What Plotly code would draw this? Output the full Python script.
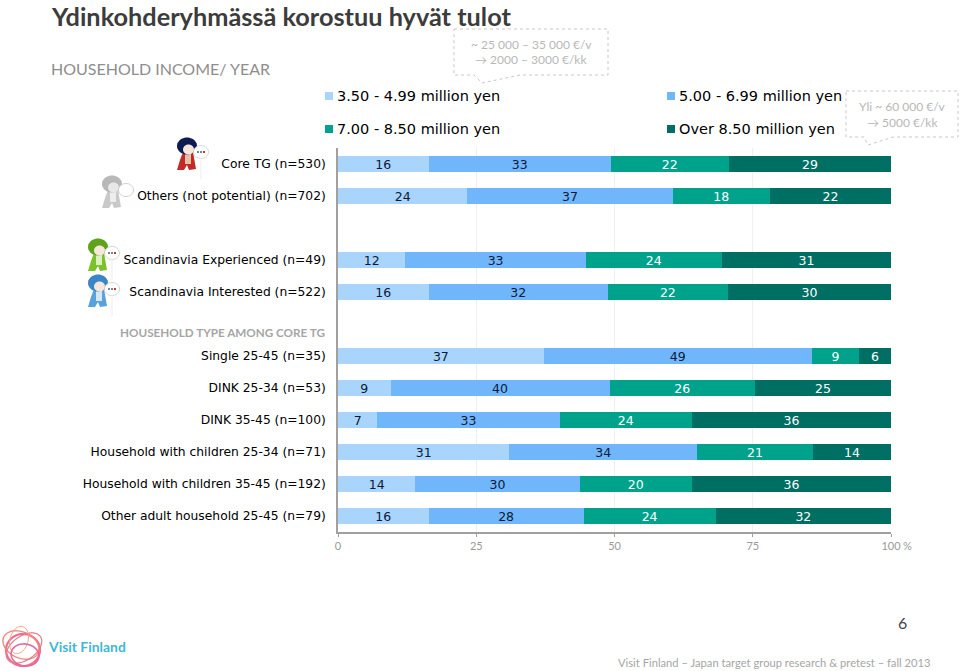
import math
import plotly.graph_objects as go

W, H = 960, 671
L, R, T, B = 338.0, 891.0, 148.0, 532.0

categories = ["Core TG (n=530)", "Others (not potential) (n=702)", " ",
              "Scandinavia Experienced (n=49)", "Scandinavia Interested (n=522)", "  ",
              "Single 25-45 (n=35)", "DINK 25-34 (n=53)", "DINK 35-45 (n=100)",
              "Household with children 25-34 (n=71)", "Household with children 35-45 (n=192)",
              "Other adult household 25-45 (n=79)"]
series_names = ["3.50 - 4.99 million yen", "5.00 - 6.99 million yen",
                "7.00 - 8.50 million yen", "Over 8.50 million yen"]
low = [16.4, 23.4, None, 12.2, 16.4, None, 37.2, 9.5, 7.1, 31.0, 14.0, 16.4]
mid = [32.9, 37.1, None, 32.6, 32.4, None, 48.5, 39.6, 33.0, 33.9, 29.7, 28.0]
high = [21.4, 17.6, None, 24.6, 21.7, None, 8.5, 26.3, 23.9, 21.0, 20.3, 23.9]
top = [29.3, 21.9, None, 30.6, 29.5, None, 5.8, 24.6, 36.0, 14.1, 36.0, 31.7]
low_labels = [16, 24, None, 12, 16, None, 37, 9, 7, 31, 14, 16]
mid_labels = [33, 37, None, 33, 32, None, 49, 40, 33, 34, 30, 28]
high_labels = [22, 18, None, 24, 22, None, 9, 26, 24, 21, 20, 24]
top_labels = [29, 22, None, 31, 30, None, 6, 25, 36, 14, 36, 32]
colors = ["#a9d4fb", "#6fb7fa", "#00a28c", "#006f63"]
text_colors = ["#0b1a3a", "#0b1a3a", "#ffffff", "#ffffff"]
tick_vals = [0, 25, 50, 75, 100]

SANS = "DejaVu Sans"
LIGHT = "Lato"

fig = go.Figure()
for name, vals, labs, col, tcol in zip(series_names, [low, mid, high, top],
                                       [low_labels, mid_labels, high_labels, top_labels],
                                       colors, text_colors):
    fig.add_trace(go.Bar(
        y=categories, x=vals, name=name, orientation="h", marker=dict(color=col, line_width=0),
        text=[("" if v is None else str(v)) for v in labs], textposition="inside",
        insidetextanchor="middle", textangle=0, constraintext="none",
        textfont=dict(family=SANS, size=12.5, color=tcol), showlegend=False,
        hoverinfo="x+y"))

def px(x):
    return (x - L) / (R - L)

def py(y):
    return (B - y) / (B - T)

def pth(points, close=True):
    d = "M" + " L".join(f"{px(x):.5f},{py(y):.5f}" for x, y in points)
    return d + (" Z" if close else "")

shapes, annos = [], []

def text(x, y, s, size, color, family=LIGHT, anchor="left", bold=False):
    annos.append(dict(x=px(x), y=py(y), xref="paper", yref="paper", xanchor=anchor, yanchor="middle",
                      showarrow=False, borderpad=0, text=f"<b>{s}</b>" if bold else s,
                      font=dict(family=family, size=size, color=color)))

def poly(points, fill=None, line=None, width=1, dash=None, close=True):
    shapes.append(dict(type="path", xref="paper", yref="paper", path=pth(points, close),
                       fillcolor=fill or "rgba(0,0,0,0)",
                       line=dict(color=line or "rgba(0,0,0,0)", width=width if line else 0, dash=dash or "solid")))

def ell(cx, cy, rx, ry, rot=0, fill=None, line=None, width=1):
    pts = []
    a = math.radians(rot)
    for i in range(40):
        t = 2 * math.pi * i / 40
        ex, ey = rx * math.cos(t), ry * math.sin(t)
        pts.append((cx + ex * math.cos(a) - ey * math.sin(a), cy + ex * math.sin(a) + ey * math.cos(a)))
    poly(pts, fill, line, width)

def person(x, y, hair, body, accent, bubble_line, dots=True):
    # x, y : centre of head
    poly([(x-4, y+6), (x+6, y+6), (x+9, y+23), (x+2, y+24), (x, y+19), (x-3, y+24), (x-10, y+24), (x-7, y+14)], fill=body)
    poly([(x-2, y+8), (x+4, y+8), (x+4, y+18), (x-2, y+18)], fill=accent)
    ell(x, y, 10, 8.5, fill=hair)
    ell(x+1.5, y+3.5, 5.5, 5, fill="#f6e6dc" if dots else "#e8e8e8")
    ell(x+14, y+6, 7.5, 6.5, fill="#ffffff", line=bubble_line, width=0.8)
    if dots:
        shapes.append(dict(type="line", xref="paper", yref="paper", x0=px(x+14), x1=px(x+14),
                           y0=py(y+12), y1=py(y+33), line=dict(color="#ececec", width=1)))
        for i, c in enumerate(["#778899", "#778899", "#cc3333"]):
            shapes.append(dict(type="rect", xref="paper", yref="paper", x0=px(x+10+i*3), x1=px(x+12+i*3),
                               y0=py(y+7), y1=py(y+5), fillcolor=c, line_width=0))

person(187, 146, "#101c50", "#c22a28", "#e8c0a8", "#cfcfcf")
person(112, 184, "#b8b8b8", "#c9c9c9", "#ededed", "#c4c4c4", dots=False)
person(98, 247, "#5fa31a", "#7cc02a", "#ddf0c0", "#c8c8c8")
person(98, 283, "#3a86c6", "#5aa2dc", "#d6e8f6", "#c8c8c8")

# callouts
poly([(454, 29), (608, 29), (608, 75), (520, 75), (482, 83), (474, 75), (454, 75)],
     fill="#ffffff", line="#c8c8c8", width=1, dash="dot")
poly([(846, 91), (958, 91), (958, 137), (893, 137), (868, 145), (864, 137), (846, 137)],
     fill="#ffffff", line="#c8c8c8", width=1, dash="dot")

# legend
leg = [(325, 96, 0), (667, 96, 1), (325, 129, 2), (667, 129, 3)]
for x, y, i in leg:
    shapes.append(dict(type="rect", xref="paper", yref="paper", x0=px(x), x1=px(x+8), y0=py(y+4), y1=py(y-4),
                       fillcolor=colors[i], line_width=0))
    text(x + 11, y, series_names[i], 14.5, "#000000", SANS)

# logo rings
ell(23, 650, 17, 16, line="#ec7090", width=2.2)
ell(21, 645, 19, 13, rot=25, line="#ef8a80", width=1.4)
ell(24, 648, 20, 12, rot=-35, line="#ea7a8c", width=1.2)
ell(19, 640, 9, 14, rot=15, line="#f2a78c", width=1)
ell(25, 655, 14, 11, rot=10, line="#e4689f", width=1.6)

text(47, 646, "Visit Finland", 13.9, "#3fb7d8", "Lato", bold=True)
text(50, 16, "Ydinkohderyhmässä korostuu hyvät tulot", 25.3, "#3c3c3c", "Lato", bold=True)
text(50, 69, "HOUSEHOLD INCOME/ YEAR", 16, "#8e8e8e", "Lato")
text(531, 44, "~ 25 000 – 35 000 €/v", 12, "#b8b8b8", "Lato", anchor="center")
text(531, 60, "→ 2000 – 3000 €/kk", 12, "#b8b8b8", "Lato", anchor="center")
text(902, 106, "Yli ~ 60 000 €/v", 12, "#b8b8b8", "Lato", anchor="center")
text(902, 122, "→ 5000 €/kk", 12, "#b8b8b8", "Lato", anchor="center")
text(326, 332, "HOUSEHOLD TYPE AMONG CORE TG", 11.7, "#a6a6a6", "Lato", anchor="right", bold=True)
text(902, 622, "6", 16, "#444444", "Lato", anchor="center")
text(932, 662, "Visit Finland – Japan target group research &amp; pretest – fall 2013", 11.2, "#a6a6a6", "Lato", anchor="right")
text(902, 545, "%", 11, "#9a9a9a", "Lato")

fig.update_layout(
    width=W, height=H, autosize=False, barmode="stack", bargap=0.53,
    margin=dict(l=L, r=W - R, t=T, b=H - B, pad=0),
    paper_bgcolor="#ffffff", plot_bgcolor="#ffffff",
    shapes=shapes, annotations=annos, showlegend=False,
    xaxis=dict(range=[0, 100], tickvals=tick_vals, ticktext=[str(v) for v in tick_vals],
               ticks="outside", ticklen=3, tickcolor="#a0a0a0", tickwidth=1,
               showline=True, linecolor="#a0a0a0", linewidth=1.5,
               showgrid=True, gridcolor="#efefef", gridwidth=1, zeroline=False,
               tickfont=dict(family=LIGHT, size=11, color="#9a9a9a")),
    yaxis=dict(categoryorder="array", categoryarray=categories, autorange="reversed",
               showline=True, linecolor="#a0a0a0", linewidth=1.5, showgrid=False, zeroline=False,
               ticks="", ticklabelstandoff=8, tickmode="array", tickvals=categories, ticktext=categories,
               tickfont=dict(family=SANS, size=12.3, color="#000000")),
)
fig.write_html("out.html", config=dict(displayModeBar=False),
               post_script="document.body.style.margin='0';document.documentElement.style.overflow='hidden';")
